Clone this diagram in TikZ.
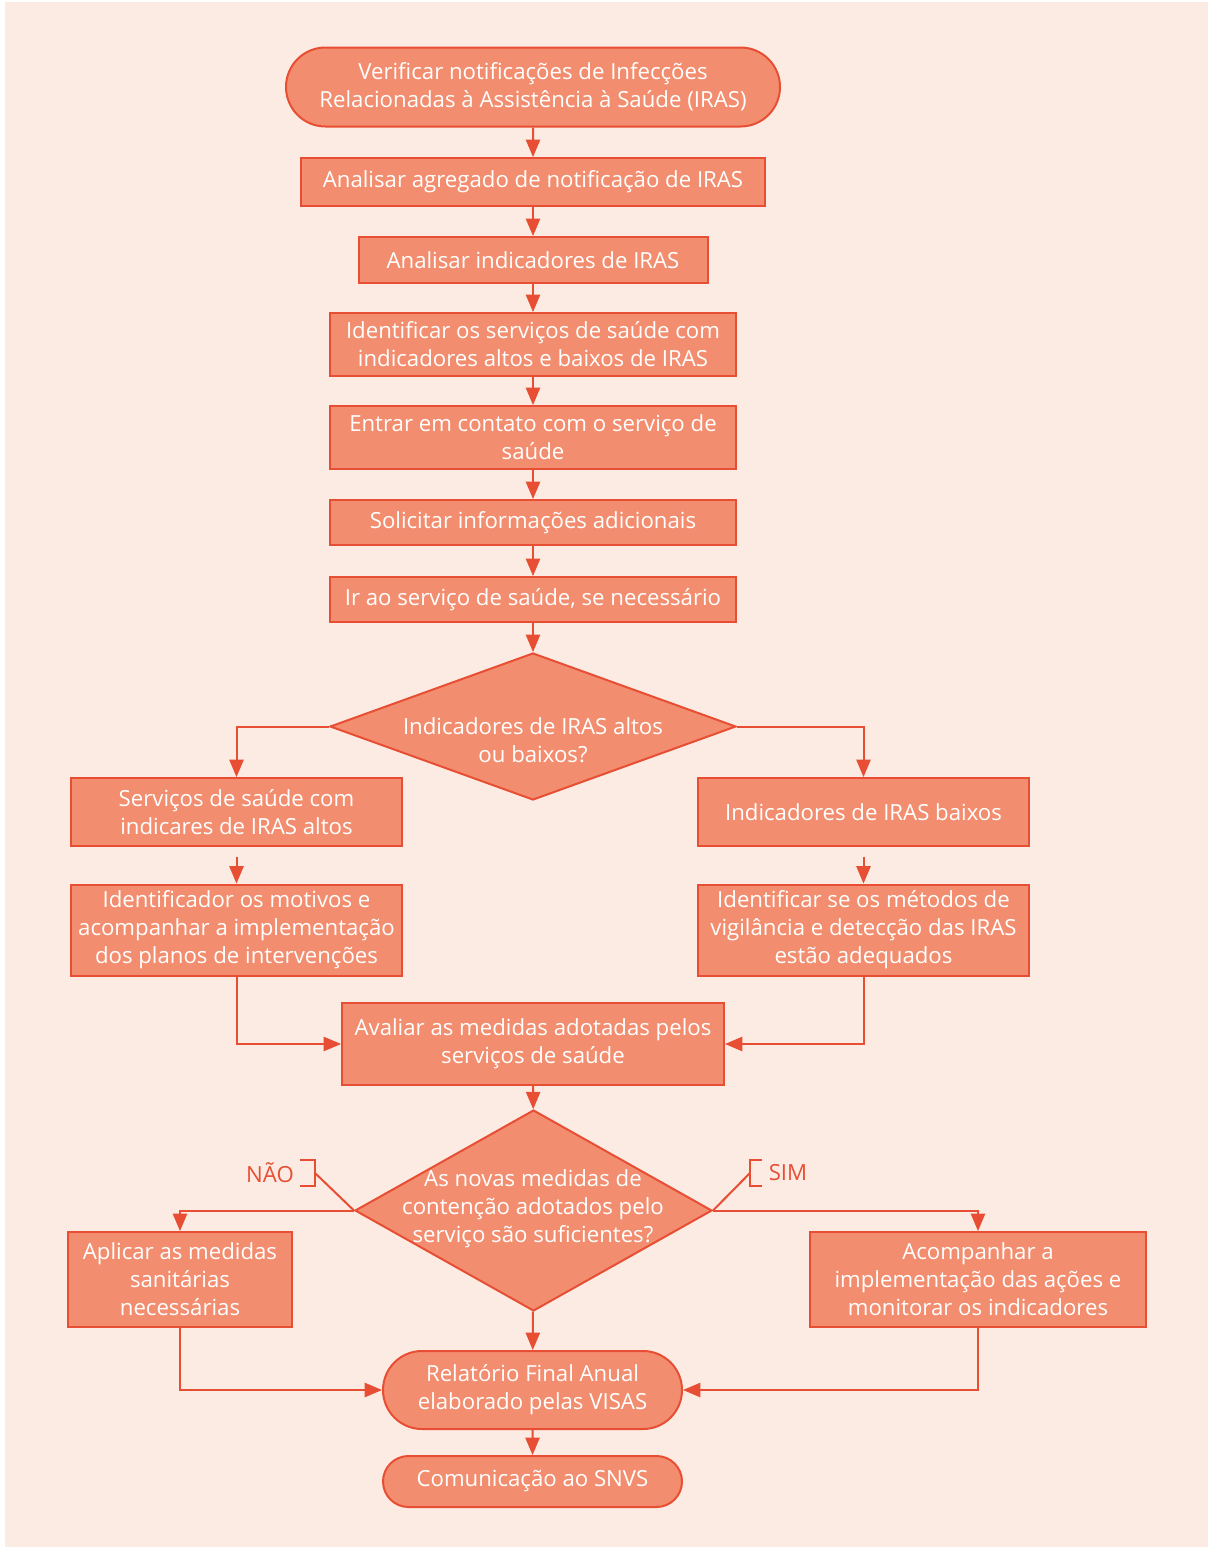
\documentclass[tikz,border=0pt]{standalone}
\usepackage{fontspec}
\setmainfont{Open Sans}
\usepackage{tikz}
\usetikzlibrary{arrows}
\usetikzlibrary{positioning}
\usetikzlibrary{shapes.geometric}
\usetikzlibrary{shapes.misc}
\definecolor{fundo}{HTML}{FCEBE3}
\definecolor{caixa}{HTML}{F28E6F}
\definecolor{borda}{HTML}{E84E33}

\begin{document}
\begin{tikzpicture}[x=0.5pt, y=-0.5pt,
    etapa/.style={draw=borda, fill=caixa, line width=1pt, text=white,
      align=center, inner sep=0pt, font=\fontsize{11.1}{14}\selectfont},
    terminal/.style={etapa, rounded rectangle},
    decisao/.style={draw=borda, fill=caixa, line width=1pt, diamond,
      inner sep=0pt},
    texto/.style={text=white, align=center, inner sep=0pt,
      font=\fontsize{11.1}{14}\selectfont},
    rotulo/.style={text=borda, inner sep=0pt,
      font=\fontsize{11.1}{14}\selectfont},
    seta/.style={draw=borda, line width=1pt, -triangle 45},
    linha/.style={draw=borda, line width=1pt}]

    \useasboundingbox (0,0) rectangle (1208,1547);
    \fill[fundo] (5,2) rectangle (1208,1547);

    \node[terminal, minimum width=247pt, minimum height=39.5pt] (inicio)
      at (533,87) {Verificar notificações de Infecções\\
      Relacionadas à Assistência à Saúde (IRAS)};
    \node[etapa, minimum width=232pt, minimum height=24pt] (agregado)
      at (533,182) {Analisar agregado de notificação de IRAS};
    \node[etapa, minimum width=174.5pt, minimum height=23pt] (indicadores)
      at (533,260) {Analisar indicadores de IRAS};
    \node[etapa, minimum width=203pt, minimum height=31.5pt] (identificar)
      at (533,344.5) {Identificar os serviços de saúde com\\
      indicadores altos e baixos de IRAS};
    \node[etapa, minimum width=203pt, minimum height=31.5pt] (contato)
      at (533,437.5) {Entrar em contato com o serviço de\\saúde};
    \node[etapa, minimum width=203pt, minimum height=22.5pt] (solicitar)
      at (533,522.5) {Solicitar informações adicionais};
    \node[etapa, minimum width=203pt, minimum height=22.5pt] (visita)
      at (533,599.5) {Ir ao serviço de saúde, se necessário};

    \node[decisao, minimum width=203pt, minimum height=73.5pt] (q1)
      at (533,726.5) {};
    \node[texto] (q1txt) at (533,740) {Indicadores de IRAS altos\\ou baixos?};

    \node[etapa, minimum width=165.5pt, minimum height=34pt] (altos)
      at (236.5,812) {Serviços de saúde com\\indicares de IRAS altos};
    \node[etapa, minimum width=165.5pt, minimum height=34pt] (baixos)
      at (863.5,812) {Indicadores de IRAS baixos};
    \node[etapa, minimum width=165.5pt, minimum height=45.5pt] (motivos)
      at (236.5,930) {Identificador os motivos e\\
      acompanhar a implementação\\dos planos de intervenções};
    \node[etapa, minimum width=165.5pt, minimum height=45.5pt] (metodos)
      at (863.5,930) {Identificar se os métodos de\\
      vigilância e detecção das IRAS\\estão adequados};
    \node[etapa, minimum width=191pt, minimum height=41pt] (avaliar)
      at (533,1044) {Avaliar as medidas adotadas pelos\\serviços de saúde};

    \node[decisao, minimum width=178.5pt, minimum height=100.5pt] (q2)
      at (533.5,1210.5) {};
    \node[texto] (q2txt) at (533,1209)
      {As novas medidas de\\contenção adotados pelo\\serviço são suficientes?};

    \node[etapa, minimum width=112pt, minimum height=47.5pt] (aplicar)
      at (180,1279.5) {Aplicar as medidas\\sanitárias\\necessárias};
    \node[etapa, minimum width=168pt, minimum height=47.5pt] (acompanhar)
      at (978,1279.5) {Acompanhar a\\implementação das ações e\\
      monitorar os indicadores};
    \node[terminal, minimum width=149.5pt, minimum height=39pt] (relatorio)
      at (532.5,1390) {Relatório Final Anual\\elaborado pelas VISAS};
    \node[terminal, minimum width=149.5pt, minimum height=25.5pt] (snvs)
      at (532.5,1481.5) {Comunicação ao SNVS};

    \node[rotulo] (nao) at (270,1173) {NÃO};
    \node[rotulo] (sim) at (788,1173) {SIM};
    \coordinate (naob) at (315,1173);
    \coordinate (simb) at (750,1173);

    \draw[seta] (inicio) -- (agregado);
    \draw[seta] (agregado) -- (indicadores);
    \draw[seta] (indicadores) -- (identificar);
    \draw[seta] (identificar) -- (contato);
    \draw[seta] (contato) -- (solicitar);
    \draw[seta] (solicitar) -- (visita);
    \draw[seta] (visita) -- (q1);
    \draw[seta] (q1.west) -| (altos.north);
    \draw[seta] (q1.east) -| (baixos.north);
    \draw[seta, shorten <=5pt] (altos) -- (motivos);
    \draw[seta, shorten <=5pt] (baixos) -- (metodos);
    \draw[seta] (motivos.south) |- (avaliar.west);
    \draw[seta] (metodos.south) |- (avaliar.east);
    \draw[seta] (avaliar) -- (q2);
    \draw[seta] (q2.west) -| (aplicar.north);
    \draw[seta] (q2.east) -| (acompanhar.north);
    \draw[seta] (q2) -- (relatorio);
    \draw[seta] (aplicar.south) |- (relatorio.west);
    \draw[seta] (acompanhar.south) |- (relatorio.east);
    \draw[seta] (relatorio) -- (snvs);

    \draw[linha] (300,1160) -| (315,1186) -- (300,1186);
    \draw[linha] (naob) -- (q2.west);
    \draw[linha] (762,1160) -| (750,1186) -- (762,1186);
    \draw[linha] (simb) -- (q2.east);

  \end{tikzpicture}
\end{document}
